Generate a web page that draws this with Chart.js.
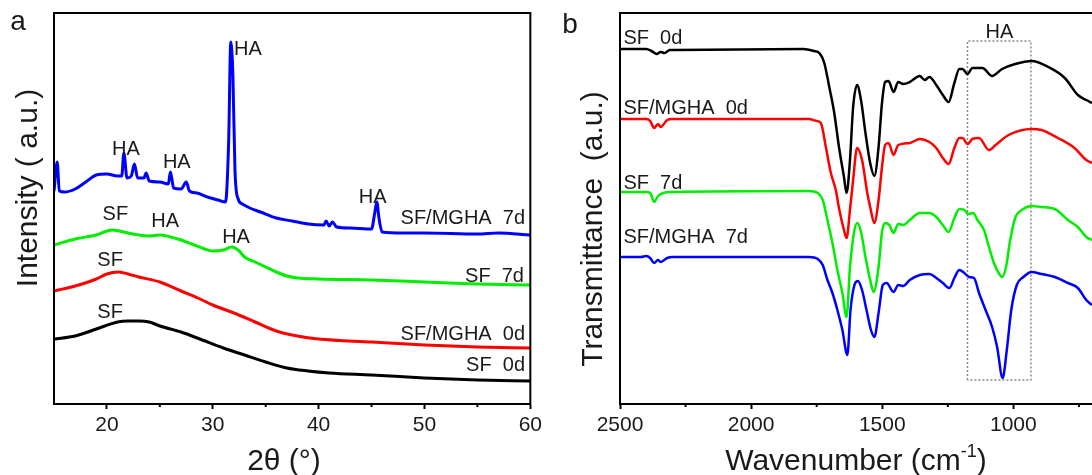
<!DOCTYPE html>
<html>
<head>
<meta charset="utf-8">
<script src="https://cdn.jsdelivr.net/npm/chart.js@4.4.1/dist/chart.umd.min.js"></script>
<style>
  body { margin: 0; width: 1092px; height: 475px; overflow: hidden; background: #fff; position: relative; }
  canvas { position: absolute; top: 0; }
  #xrdChart { left: 0; }
  #ftirChart { left: 546px; }
</style>
</head>
<body>
<canvas id="xrdChart" width="546" height="475"></canvas>
<canvas id="ftirChart" width="620" height="475"></canvas>
<script>
// ---- panel a : XRD, 2theta (deg) vs intensity (a.u.) ----
const xrdTicks = [20, 30, 40, 50, 60];
const xrdMinor = [25, 35, 45, 55];

const sf0dTheta = [15, 17, 19, 21, 22, 23, 24, 25, 27, 29, 31, 33, 35, 37, 39, 41, 45, 50, 55, 60];
const sf0dInt = [65, 68, 75, 82, 83, 83, 82, 78, 72, 64, 56, 49, 42, 36, 33, 31, 29, 26, 24, 23];

const mgha0dTheta = [15, 17, 19, 20, 21, 22, 23, 25, 27, 29, 30, 32, 34, 36, 38, 40, 45, 50, 55, 60];
const mgha0dInt = [113, 118, 125, 130, 132, 130, 127, 122, 113, 104, 99, 91, 82, 73, 68, 65, 62, 59, 57, 56];

const sf7dTheta = [15, 17, 19, 20.5, 22, 23, 24, 25, 26, 27, 28, 29, 30, 31, 31.8, 32.5, 33, 34, 35, 36, 37, 38, 40, 45, 50, 55, 60];
const sf7dInt = [159, 165, 169, 174, 171, 169, 168, 169, 167, 164, 160, 156, 153, 154, 157, 153, 147, 142, 137, 132, 128, 126, 125, 124, 122, 120, 119];

const mgha7dTheta = [15, 15.3, 15.5, 16, 17, 18, 19, 20, 21, 21.4, 21.6, 21.9, 22.3, 22.6, 22.9, 23.5, 23.7, 24, 25, 25.8,
  26, 26.3, 27, 27.5, 27.8, 28.5, 29.5, 30.5, 31.2, 31.5, 31.7, 31.9, 32.1, 32.4, 32.8, 33.5, 34.5, 36, 37.5, 39,
  40.5, 40.7, 41, 41.3, 41.7, 43, 45, 45.3, 45.5, 45.7, 46, 48, 50, 55, 57, 60];
const mgha7dInt = [213, 242, 213, 212, 215, 222, 229, 230, 228, 228, 251, 226, 228, 240, 226, 226, 231, 223, 222, 220,
  232, 216, 215, 222, 213, 211, 207, 204, 202, 262, 362, 329, 233, 205, 200, 196, 192, 186, 183, 180,
  179, 183, 178, 182, 177, 176, 175, 191, 202, 186, 172, 171, 171, 170, 171, 169];

// ---- panel b : FTIR, wavenumber (cm-1) vs transmittance (a.u.) ----
const ftirTicks = [2500, 2000, 1500, 1000, 500];
const ftirMinor = [2250, 1750, 1250, 750];

const irSf0dWn = [2500, 2400, 2380, 2360, 2345, 2330, 2310, 2290, 1800, 1760, 1740, 1721, 1702, 1683, 1665, 1646, 1636, 1623, 1611, 1596,
  1581, 1564, 1546, 1530, 1514, 1501, 1489, 1476, 1457, 1439, 1420, 1395, 1357, 1338, 1320, 1294, 1269, 1247, 1225, 1206,
  1194, 1175, 1156, 1118, 1081, 1043, 993, 930, 867, 804, 754, 722, 700];
const irSf0dT = [355, 355, 353, 350, 352, 351, 354, 354, 355, 353, 351, 341, 317, 291, 257, 227, 211, 244, 297, 319,
  304, 271, 241, 228, 257, 301, 322, 323, 312, 322, 320, 322, 328, 324, 327, 319, 309, 302, 321, 335,
  335, 330, 336, 336, 328, 335, 340, 343, 337, 326, 309, 304, 301];

const irMgha0dWn = [2500, 2400, 2385, 2370, 2355, 2345, 2320, 2300, 1780, 1750, 1734, 1715, 1696, 1677, 1665, 1646, 1636, 1623, 1611, 1596,
  1577, 1557, 1546, 1530, 1514, 1501, 1489, 1476, 1457, 1439, 1395, 1357, 1320, 1294, 1269, 1247, 1225, 1206, 1194, 1175,
  1156, 1131, 1093, 1068, 1018, 930, 893, 830, 767, 722, 700];
const irMgha0dT = [285, 285, 283, 276, 280, 277, 284, 285, 285, 283, 281, 257, 231, 214, 196, 174, 166, 194, 224, 256,
  244, 211, 197, 181, 204, 237, 259, 261, 249, 259, 261, 265, 262, 256, 246, 240, 256, 266, 266, 260,
  265, 266, 254, 259, 269, 275, 274, 266, 256, 244, 241];

const irSf7dWn = [2500, 2400, 2385, 2370, 2355, 2335, 2300, 1780, 1746, 1727, 1709, 1690, 1671, 1652, 1636, 1623, 1608, 1596, 1581, 1564,
  1546, 1533, 1514, 1501, 1489, 1473, 1457, 1439, 1420, 1395, 1357, 1320, 1294, 1269, 1247, 1225, 1206, 1187, 1171, 1153,
  1137, 1112, 1093, 1074, 1056, 1043, 1028, 1012, 993, 968, 930, 893, 842, 792, 754, 722, 700];
const irSf7dT = [212, 212, 211, 202, 208, 211, 212, 213, 211, 204, 184, 161, 134, 111, 87, 137, 171, 181, 172, 147,
  124, 112, 137, 172, 181, 179, 171, 180, 179, 184, 191, 191, 187, 179, 172, 186, 195, 194, 190, 191,
  184, 174, 157, 141, 131, 127, 137, 164, 186, 194, 198, 197, 195, 184, 177, 167, 164];

const irMgha7dWn = [2500, 2420, 2400, 2385, 2370, 2355, 2345, 2320, 2300, 1780, 1746, 1727, 1709, 1690, 1671, 1652, 1633, 1621, 1606, 1593,
  1577, 1560, 1543, 1530, 1514, 1498, 1483, 1457, 1439, 1420, 1395, 1357, 1320, 1294, 1269, 1244, 1225, 1206, 1187, 1169,
  1150, 1131, 1106, 1081, 1062, 1041, 1025, 1008, 987, 962, 930, 893, 842, 792, 754, 722, 700];
const irMgha7dT = [147, 147, 148, 146, 141, 144, 142, 146, 147, 147, 145, 139, 124, 111, 94, 74, 49, 94, 119, 123,
  114, 94, 74, 67, 91, 119, 121, 112, 119, 118, 124, 129, 130, 126, 121, 116, 126, 134, 131, 127,
  126, 111, 94, 77, 57, 26, 54, 94, 119, 127, 132, 130, 127, 121, 116, 104, 99];

// dotted HA band
const haBoxWn = [1175, 1175, 933, 933, 1175];
const haBoxT = [24, 363, 363, 24, 24];

const FONT = '"Liberation Sans", Arial, sans-serif';
Chart.defaults.font.family = FONT;

function pts(xs, ys) {
  return xs.map((x, i) => ({ x: x, y: ys[i] }));
}

function curve(xs, ys, color, width) {
  return {
    data: pts(xs, ys),
    borderColor: color,
    borderWidth: width,
    pointRadius: 0,
    cubicInterpolationMode: "monotone",
    fill: false,
  };
}

// frame, minor ticks and all the text of a panel
const panelText = {
  id: "panelText",
  afterDraw(chart, args, opts) {
    const ctx = chart.ctx;
    const area = chart.chartArea;
    const xs = chart.scales.x;
    const ys = chart.scales.y;
    ctx.save();
    ctx.strokeStyle = "#000";
    ctx.lineWidth = 2;
    ctx.strokeRect(area.left, area.top, area.right - area.left, area.bottom - area.top);
    opts.minor.forEach((v) => {
      const x = xs.getPixelForValue(v);
      ctx.beginPath();
      ctx.moveTo(x, area.bottom);
      ctx.lineTo(x, area.bottom + 3);
      ctx.stroke();
    });

    ctx.fillStyle = "#1a1a1a";
    ctx.textBaseline = "middle";
    ctx.font = "20px " + FONT;
    opts.labels.forEach((l) => {
      ctx.textAlign = l[3] || "center";
      ctx.fillText(l[0], xs.getPixelForValue(l[1]), ys.getPixelForValue(l[2]));
    });

    // panel letter
    ctx.font = "28px " + FONT;
    ctx.textAlign = "center";
    ctx.fillText(opts.letter[0], opts.letter[1], opts.letter[2]);

    // y title
    ctx.font = "30px " + FONT;
    ctx.save();
    ctx.translate(opts.yTitle[1], opts.yTitle[2]);
    ctx.rotate(-Math.PI / 2);
    ctx.fillText(opts.yTitle[0], 0, 0);
    ctx.restore();

    // x title, with optional superscript
    const t = opts.xTitle;
    const supFont = "18px " + FONT;
    ctx.font = "30px " + FONT;
    const w1 = ctx.measureText(t.main).width;
    const w3 = ctx.measureText(t.tail).width;
    ctx.font = supFont;
    const w2 = t.sup ? ctx.measureText(t.sup).width : 0;
    let x0 = t.x - (w1 + w2 + w3) / 2;
    ctx.textAlign = "left";
    ctx.font = "30px " + FONT;
    ctx.fillText(t.main, x0, t.y);
    if (t.sup) {
      ctx.font = supFont;
      ctx.fillText(t.sup, x0 + w1, t.y - 10);
    }
    ctx.font = "30px " + FONT;
    ctx.fillText(t.tail, x0 + w1 + w2, t.y);
    ctx.restore();
  },
};

function xAxis(min, max, ticks, reverse) {
  return {
    type: "linear",
    min: min,
    max: max,
    reverse: reverse,
    afterBuildTicks: (scale) => {
      scale.ticks = ticks.map((v) => ({ value: v }));
    },
    afterFit: (scale) => {
      scale.height = 71;
    },
    border: { display: true, color: "#000", width: 2 },
    grid: { drawOnChartArea: false, drawTicks: true, tickLength: 5, tickColor: "#000", tickWidth: 2 },
    ticks: {
      color: "#1a1a1a",
      font: { size: 21 },
      padding: 4,
      maxRotation: 0,
      autoSkip: false,
      callback: (v) => String(v),
    },
  };
}

// Create the XRD chart
new Chart(document.getElementById("xrdChart"), {
  type: "line",
  data: {
    datasets: [
      curve(mgha7dTheta, mgha7dInt, "#0000ff", 3),
      curve(sf7dTheta, sf7dInt, "#00ee00", 3),
      curve(mgha0dTheta, mgha0dInt, "#ff0000", 3),
      curve(sf0dTheta, sf0dInt, "#000000", 3),
    ],
  },
  options: {
    responsive: false,
    animation: false,
    layout: { padding: { left: 54, right: 14, top: 13, bottom: 0 } },
    plugins: {
      legend: { display: false },
      tooltip: { enabled: false },
      panelText: {
        minor: xrdMinor,
        labels: [
          ["HA", 32.0, 355, "left"],
          ["HA", 21.8, 255],
          ["HA", 26.6, 242],
          ["HA", 45.1, 207],
          ["SF/MGHA  7d", 59.5, 186, "right"],
          ["SF", 20.8, 190],
          ["HA", 25.5, 183],
          ["HA", 32.2, 167],
          ["SF  7d", 59.4, 128, "right"],
          ["SF", 20.3, 144],
          ["SF/MGHA  0d", 59.5, 70, "right"],
          ["SF", 20.3, 92],
          ["SF  0d", 59.5, 39, "right"],
        ],
        letter: ["a", 18, 22],
        yTitle: ["Intensity ( a.u.)", 29, 188],
        xTitle: { main: "2θ (°)", sup: "", tail: "", x: 284, y: 462 },
      },
    },
    scales: {
      x: xAxis(15, 60, xrdTicks, false),
      y: { display: false, min: 0, max: 391 },
    },
  },
  plugins: [panelText],
});

// Create the FTIR chart
new Chart(document.getElementById("ftirChart"), {
  type: "line",
  data: {
    datasets: [
      curve(irSf0dWn, irSf0dT, "#000000", 2.5),
      curve(irMgha0dWn, irMgha0dT, "#ff0000", 2.5),
      curve(irSf7dWn, irSf7dT, "#00ee00", 2.5),
      curve(irMgha7dWn, irMgha7dT, "#0000ff", 2.5),
      {
        data: pts(haBoxWn, haBoxT),
        borderColor: "#8a8a8a",
        borderWidth: 1.5,
        borderDash: [2, 2],
        pointRadius: 0,
        fill: false,
      },
    ],
  },
  options: {
    responsive: false,
    animation: false,
    layout: { padding: { left: 74, right: 15, top: 13, bottom: 0 } },
    plugins: {
      legend: { display: false },
      tooltip: { enabled: false },
      panelText: {
        minor: ftirMinor,
        labels: [
          ["SF  0d", 2487, 366, "left"],
          ["SF/MGHA  0d", 2487, 296, "left"],
          ["SF  7d", 2487, 221, "left"],
          ["SF/MGHA  7d", 2487, 167, "left"],
          ["HA", 1053, 372],
        ],
        letter: ["b", 24, 25],
        yTitle: ["Transmittance  (a.u.)", 48, 229],
        xTitle: { main: "Wavenumber (cm", sup: "-1", tail: ")", x: 310, y: 462 },
      },
    },
    scales: {
      x: xAxis(500, 2500, ftirTicks, true),
      y: { display: false, min: 0, max: 391 },
    },
  },
  plugins: [panelText],
});
</script>
</body>
</html>
